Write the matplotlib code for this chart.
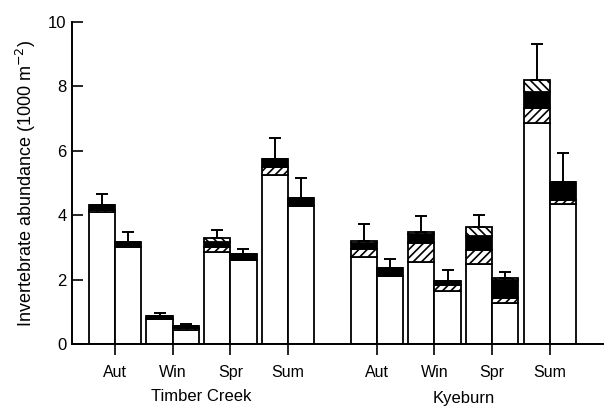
import numpy as np
import matplotlib
matplotlib.use("Agg")
import matplotlib.pyplot as plt

plt.rcParams['font.family'] = ['Liberation Sans', 'DejaVu Sans']
plt.rcParams['hatch.linewidth'] = 1.2

# Two bars per season, stacked in four layers (1000 m^-2)
sites = ['Timber Creek', 'Kyeburn']
seasons = ['Aut', 'Win', 'Spr', 'Sum']

# order: TC Aut b1, b2, Win b1, b2, Spr b1, b2, Sum b1, b2, then Kyeburn same
white = [4.10, 3.01, 0.78, 0.42, 2.86, 2.62, 5.25, 4.29,
         2.70, 2.11, 2.55, 1.65, 2.48, 1.28, 6.86, 4.35]
fwd_hatch = [0.07, 0.00, 0.00, 0.08, 0.15, 0.00, 0.25, 0.00,
             0.25, 0.00, 0.59, 0.18, 0.44, 0.15, 0.47, 0.12]
black = [0.15, 0.16, 0.10, 0.07, 0.16, 0.16, 0.25, 0.24,
         0.19, 0.25, 0.28, 0.13, 0.43, 0.55, 0.50, 0.56]
back_hatch = [0.00, 0.00, 0.00, 0.00, 0.12, 0.00, 0.00, 0.00,
              0.06, 0.00, 0.06, 0.00, 0.28, 0.07, 0.37, 0.00]
err = [0.34, 0.31, 0.09, 0.05, 0.25, 0.17, 0.65, 0.63,
       0.53, 0.28, 0.50, 0.34, 0.37, 0.19, 1.12, 0.90]

tick_pos = np.array([0, 1, 2, 3, 4.54, 5.54, 6.54, 7.54])
w = 0.455
xs = np.ravel(np.column_stack([tick_pos - w / 2, tick_pos + w / 2]))

fig = plt.figure(figsize=(6.04, 4.09), dpi=100)
ax = fig.add_axes([0.1192, 0.159, 0.879, 0.787])

bottom = np.zeros(len(xs))
layers = [(white, 'white', None), (fwd_hatch, 'white', '////'),
          (black, 'black', None), (back_hatch, 'white', '\\\\\\\\')]
for vals, fc, hatch in layers:
    vals = np.array(vals)
    ax.bar(xs, vals, w, bottom=bottom, color=fc, edgecolor='black',
           linewidth=1.3, hatch=hatch)
    bottom = bottom + vals

ax.errorbar(xs, bottom, yerr=[np.zeros(len(xs)), err], fmt='none',
            ecolor='black', elinewidth=1.4, capsize=4.5, capthick=1.4)

ax.set_xlim(-0.745, 8.46)
ax.set_ylim(0, 10)
ax.spines['top'].set_visible(False)
ax.spines['right'].set_visible(False)
ax.spines['left'].set_linewidth(1.4)
ax.spines['bottom'].set_linewidth(1.4)

ax.set_yticks([0, 2, 4, 6, 8, 10])
ax.set_yticklabels(['0', '2', '4', '6', '8', '10'], fontsize=12)
ax.tick_params(axis='y', direction='in', length=8, width=1.2, pad=4)
ax.set_xticks(tick_pos)
ax.set_xticklabels(seasons * 2, fontsize=11.5)
ax.tick_params(axis='x', direction='out', length=8, width=1.2, pad=7)

ax.set_ylabel('Invertebrate abundance (1000 m$^{-2}$)', fontsize=13, labelpad=7)

centers = [tick_pos[:4].mean(), tick_pos[4:].mean()]
ax.text(centers[0], -1.62, sites[0], ha='center', va='center', fontsize=12,
        clip_on=False)
ax.text(centers[1], -1.7, sites[1], ha='center', va='center', fontsize=12,
        clip_on=False)

fig.savefig('out.png', dpi=100)
